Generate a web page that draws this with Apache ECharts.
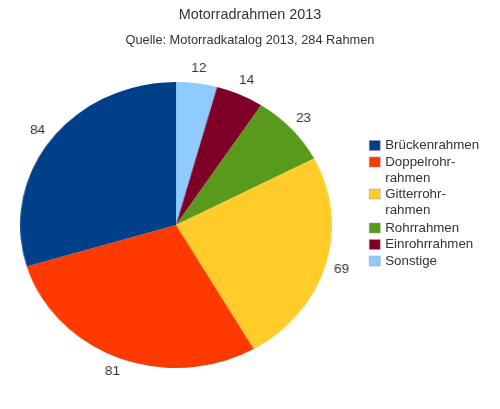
<!DOCTYPE html>
<html><head><meta charset="utf-8">
<script src="https://cdn.jsdelivr.net/npm/echarts@6/dist/echarts.min.js"></script>
<style>
html,body{margin:0;padding:0;background:#fff;}
#wrap{position:relative;width:500px;height:409px;overflow:hidden;}
#pie{position:absolute;left:0;top:0;width:500px;height:409px;transform:scaleX(1.0909);transform-origin:176px 225px;}
#main{position:absolute;left:0;top:0;width:500px;height:409px;}
</style></head>
<body>
<div id="wrap"><div id="pie"></div><div id="main"></div></div>
<script>
// Data (clockwise from 12 o'clock)
const categories = ['Sonstige', 'Einrohrrahmen', 'Rohrrahmen', 'Gitterrohrrahmen', 'Doppelrohrrahmen', 'Brückenrahmen'];
const values = [12, 14, 23, 69, 81, 84];
const sliceColors = ['#8fcbff', '#7e0027', '#589a1c', '#ffcc2a', '#ff3a00', '#004088'];
const legendOrder = ['Brückenrahmen', 'Doppelrohrrahmen', 'Gitterrohrrahmen', 'Rohrrahmen', 'Einrohrrahmen', 'Sonstige'];
const legendText = ['Brückenrahmen', 'Doppelrohr-\nrahmen', 'Gitterrohr-\nrahmen', 'Rohrrahmen', 'Einrohrrahmen', 'Sonstige'];
const titleText = 'Motorradrahmen 2013';
const subtitleText = 'Quelle: Motorradkatalog 2013, 284 Rahmen';

const FONT = 'Liberation Sans, Arial, sans-serif';
const pieData = categories.map((c, i) => ({ name: c, value: values[i], itemStyle: { color: sliceColors[i] } }));

// Pie chart (horizontally stretched to the reference's ellipse)
const pieChart = echarts.init(document.getElementById('pie'), null, { renderer: 'canvas' });
pieChart.setOption({
  animation: false,
  series: [
    {
      type: 'pie', center: [176, 225], radius: [0, 143], startAngle: 90, clockwise: true,
      avoidLabelOverlap: false, silent: true,
      label: { show: false }, labelLine: { show: false },
      itemStyle: { borderWidth: 0 },
      data: pieData
    },
    {
      type: 'pie', center: [176, 225], radius: [144, 166], startAngle: 90, clockwise: true,
      avoidLabelOverlap: false, silent: true,
      itemStyle: { color: 'rgba(0,0,0,0)', borderWidth: 0 },
      label: { show: true, position: 'inside', formatter: '{c}', color: '#333', fontSize: 12.5, fontFamily: FONT },
      labelLine: { show: false },
      data: categories.map((c, i) => ({ name: c, value: values[i] }))
    }
  ]
});

// Title + legend chart
const legendCenters = [145.5, 162, 194, 228, 244.5, 261];
const legends = legendOrder.map((name, i) => {
  const twoLine = legendText[i].indexOf('\n') >= 0;
  // a leading empty line keeps the first text line level with the icon
  const shown = twoLine ? '\n' + legendText[i] : legendText[i];
  return {
    orient: 'vertical', left: 369, top: legendCenters[i] - (twoLine ? 24 : 8), padding: 0,
    itemWidth: 11, itemHeight: 10, itemGap: 0, selectedMode: false,
    icon: 'rect',
    itemStyle: { borderColor: '#999', borderWidth: 0.5 },
    textStyle: { fontSize: 13.3, fontFamily: FONT, color: '#333', lineHeight: 16 },
    formatter: () => shown,
    data: [name]
  };
});

const main = echarts.init(document.getElementById('main'), null, { renderer: 'canvas' });
main.setOption({
  animation: false,
  title: {
    text: titleText, subtext: subtitleText, left: 'center', top: 7, padding: 0, itemGap: 9,
    textStyle: { fontSize: 14.4, fontWeight: 'normal', color: '#333', fontFamily: FONT, lineHeight: 16 },
    subtextStyle: { fontSize: 12.8, color: '#333', fontFamily: FONT, lineHeight: 16 }
  },
  legend: legends,
  series: [{
    type: 'pie', center: [176, 225], radius: [0, 0], silent: true,
    label: { show: false }, labelLine: { show: false },
    itemStyle: { borderWidth: 0 },
    data: pieData
  }]
});
</script>
</body></html>
